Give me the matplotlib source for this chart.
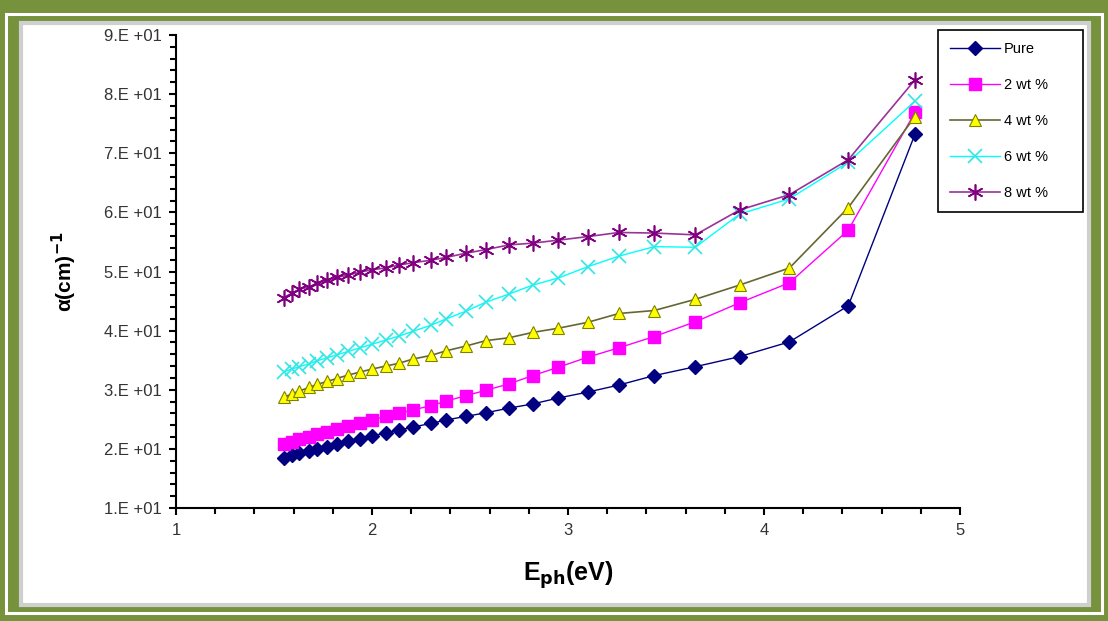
import matplotlib
matplotlib.use('Agg')
import matplotlib.pyplot as plt
from matplotlib.patches import Rectangle
from matplotlib.ticker import MultipleLocator, FuncFormatter

plt.rcParams['font.family'] = ['Liberation Sans', 'DejaVu Sans']

# photon energies (eV)
energy = [1.55, 1.59, 1.63, 1.68, 1.72, 1.77, 1.82, 1.88, 1.94, 2.00,
          2.07, 2.14, 2.21, 2.30, 2.38, 2.48, 2.58, 2.70, 2.82, 2.95,
          3.10, 3.26, 3.44, 3.65, 3.875, 4.13, 4.43, 4.77]

pure = [18.5, 18.9, 19.3, 19.6, 20.0, 20.4, 20.8, 21.3, 21.7, 22.2,
        22.7, 23.2, 23.7, 24.3, 24.9, 25.5, 26.1, 26.9, 27.6, 28.6,
        29.6, 30.8, 32.4, 33.9, 35.6, 38.1, 44.2, 73.2]
wt2 = [20.8, 21.2, 21.6, 22.0, 22.5, 22.9, 23.4, 23.9, 24.4, 24.9,
       25.5, 26.0, 26.6, 27.3, 28.1, 29.0, 29.9, 31.0, 32.4, 33.8,
       35.5, 37.1, 39.0, 41.5, 44.7, 48.1, 57.0, 76.9]
wt4 = [28.7, 29.3, 29.8, 30.4, 30.9, 31.4, 31.9, 32.5, 33.0, 33.5,
       34.0, 34.5, 35.2, 35.8, 36.6, 37.4, 38.3, 38.8, 39.7, 40.4,
       41.4, 42.9, 43.4, 45.3, 47.7, 50.6, 60.8, 76.2]
wt6 = [33.0, 33.5, 33.9, 34.4, 34.9, 35.4, 35.9, 36.5, 37.1, 37.7,
       38.4, 39.1, 39.9, 40.9, 42.0, 43.3, 44.8, 46.2, 47.7, 48.9,
       50.8, 52.6, 54.2, 54.1, 59.7, 62.3, 68.5, 78.8]
wt8 = [45.6, 46.3, 47.0, 47.4, 48.0, 48.6, 49.0, 49.4, 49.9, 50.3,
       50.6, 51.1, 51.5, 51.9, 52.4, 53.1, 53.7, 54.5, 54.8, 55.3,
       55.9, 56.6, 56.5, 56.2, 60.4, 63.0, 68.9, 82.4]

labels = ['Pure', '2 wt %', '4 wt %', '6 wt %', '8 wt %']

W, H = 1108, 621
fig = plt.figure(figsize=(W / 100, H / 100), dpi=100, facecolor='#76923c')

def frame(x0, y0, x1, y1, **kw):
    fig.patches.append(Rectangle((x0 / W, 1 - y1 / H), (x1 - x0) / W, (y1 - y0) / H,
                                 transform=fig.transFigure, zorder=-5, **kw))

frame(6, 14, 1102, 613, fill=False, edgecolor='white', linewidth=2.2)
frame(21, 23, 1089, 605, facecolor='white', edgecolor='#cfcfcf', linewidth=3)

ax = fig.add_axes([176 / W, 1 - 508 / H, (960 - 176) / W, (508 - 35) / H])
ax.set_facecolor('none')

ax.plot(energy, pure, color='#000080', lw=1, marker='D', ms=7,
        mfc='#000080', mec='#000080', label=labels[0])
ax.plot(energy, wt2, color='#ff00ff', lw=1, marker='s', ms=8,
        mfc='#ff00ff', mec='#ff00ff', label=labels[1])
ax.plot(energy, wt4, color='#666633', lw=1.2, marker='^', ms=9,
        mfc='#ffff00', mec='#808000', mew=0.8, label=labels[2])
ax.plot(energy, wt6, color='#00ffff', lw=1, marker='x', ms=9.5,
        mec='#33e6e6', mew=1.2, label=labels[3])
ax.plot(energy, wt8, color='#993399', lw=1.2, marker=(6, 2, 0), ms=11.5,
        mec='#800080', mew=1.2, label=labels[4])

ax.set_xlim(1, 5)
ax.set_ylim(10, 90)
ax.xaxis.set_major_locator(MultipleLocator(1))
ax.xaxis.set_minor_locator(MultipleLocator(0.2))
ax.yaxis.set_major_locator(MultipleLocator(10))
ax.yaxis.set_minor_locator(MultipleLocator(2))
ax.yaxis.set_major_formatter(FuncFormatter(lambda v, p: '%d.E +01' % round(v / 10)))
ax.xaxis.set_major_formatter(FuncFormatter(lambda v, p: '%d' % v))

for s in ['top', 'right']:
    ax.spines[s].set_visible(False)
for s in ['left', 'bottom']:
    ax.spines[s].set_linewidth(1.5)
ax.tick_params(which='major', direction='out', length=5, width=1.5,
               labelsize=12, labelcolor='#333333', pad=5)
ax.tick_params(which='minor', direction='out', length=4, width=1.5)
ax.tick_params(axis='x', pad=6)

ax.set_xlabel(r'E$_{\mathbf{ph}}$(eV)', fontsize=18, fontweight='bold', labelpad=15)
ax.set_ylabel(r'α(cm)$^{\mathbf{-1}}$', fontsize=15, fontweight='bold', labelpad=18)

leg = ax.legend(loc='upper left', mode='expand',
                bbox_to_anchor=(938 / W, 1 - 212 / H, 145 / W, 182 / H),
                bbox_transform=fig.transFigure, borderaxespad=0, fancybox=False,
                edgecolor='black', framealpha=1, fontsize=10.5, handlelength=3.4,
                labelspacing=1.5, borderpad=0.85, handletextpad=0.25)
leg.get_frame().set_linewidth(1.2)

fig.savefig('out.png', dpi=100, facecolor=fig.get_facecolor())
